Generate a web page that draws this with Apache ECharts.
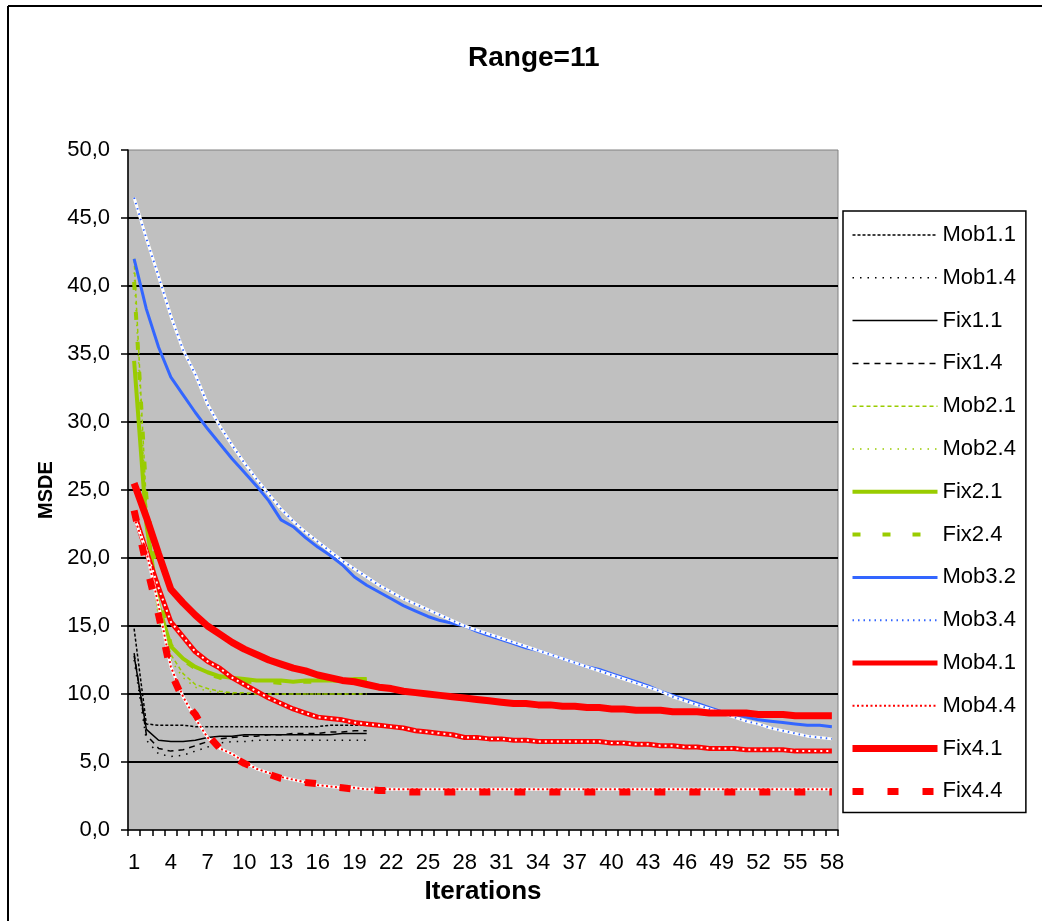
<!DOCTYPE html>
<html>
<head>
<meta charset="utf-8">
<script src="https://cdn.jsdelivr.net/npm/echarts@6/dist/echarts.min.js"></script>
<style>
html,body{margin:0;padding:0;background:#fff;}
#chart{width:1042px;height:921px;}
</style>
</head>
<body>
<div id="chart"></div>
<script>
const categories = ['1','2','3','4','5','6','7','8','9','10','11','12','13','14','15','16','17','18','19','20',
'21','22','23','24','25','26','27','28','29','30','31','32','33','34','35','36','37','38','39','40',
'41','42','43','44','45','46','47','48','49','50','51','52','53','54','55','56','57','58'];

const mob11 = [14.8, 7.8, 7.7, 7.7, 7.7, 7.6, 7.6, 7.6, 7.6, 7.6, 7.6, 7.6, 7.6, 7.6, 7.6, 7.6, 7.7, 7.7, 7.7, 7.7];
const mob14 = [12.5, 6.6, 5.6, 5.4, 5.5, 5.8, 6.1, 6.4, 6.5, 6.5, 6.6, 6.6, 6.6, 6.6, 6.6, 6.6, 6.6, 6.6, 6.6, 6.6];
const fix11 = [12.8, 7.4, 6.6, 6.5, 6.5, 6.6, 6.8, 6.9, 6.9, 7.0, 7.0, 7.0, 7.0, 7.0, 7.0, 7.0, 7.0, 7.1, 7.1, 7.1];
const fix14 = [13.0, 7.0, 6.0, 5.8, 5.9, 6.2, 6.5, 6.7, 6.8, 6.9, 6.9, 7.0, 7.0, 7.1, 7.1, 7.1, 7.2, 7.2, 7.3, 7.3];

const mob21 = [42.0, 24.0, 16.0, 12.9, 11.5, 10.7, 10.4, 10.2, 10.1, 10.1, 10.0, 10.0, 10.0, 10.0, 10.0, 10.0, 10.0, 10.0, 10.0, 10.0];
const mob24 = [41.0, 23.0, 15.5, 12.5, 11.2, 10.5, 10.2, 10.1, 10.0, 10.0, 10.0, 10.0, 10.0, 10.0, 10.0, 10.0, 10.0, 10.0, 10.0, 10.0];
const fix21 = [34.5, 22.5, 16.5, 13.5, 12.6, 12.0, 11.6, 11.3, 11.2, 11.1, 11.0, 11.0, 11.0, 10.9, 11.0, 11.0, 11.0, 11.0, 11.1, 11.1];
const fix24 = [40.3, 24.5, 17.5, 13.6, 12.5, 11.9, 11.5, 11.2, 11.0, 10.9, 10.9, 10.9, 10.8, 10.9, 10.9, 10.9, 11.0, 11.0, 11.0, 11.0];

const mob32 = [42.0, 38.3, 35.5, 33.3, 32.0, 30.7, 29.5, 28.4, 27.3, 26.3, 25.3, 24.2, 22.8, 22.3, 21.5, 20.8, 20.2, 19.5, 18.6, 18.0,
  17.5, 17.0, 16.5, 16.1, 15.7, 15.4, 15.2, 15.0, 14.6, 14.3, 14.0, 13.7, 13.4, 13.2, 12.9, 12.6, 12.3, 12.0, 11.8, 11.5,
  11.2, 10.9, 10.6, 10.2, 9.9, 9.6, 9.3, 9.0, 8.7, 8.5, 8.3, 8.1, 8.0, 7.9, 7.8, 7.7, 7.7, 7.6];
const mob34 = [46.5, 43.5, 40.7, 37.8, 35.3, 33.5, 31.3, 29.7, 28.3, 27.0, 25.8, 24.7, 23.6, 22.7, 21.9, 21.2, 20.5, 19.8, 19.2, 18.6,
  18.0, 17.5, 17.0, 16.6, 16.2, 15.8, 15.4, 15.0, 14.7, 14.4, 14.1, 13.8, 13.5, 13.2, 12.9, 12.6, 12.3, 12.0, 11.7, 11.4,
  11.1, 10.8, 10.5, 10.2, 9.8, 9.5, 9.2, 8.9, 8.6, 8.3, 8.0, 7.8, 7.5, 7.3, 7.1, 6.9, 6.8, 6.7];

const mob41 = [23.3, 20.5, 17.8, 15.3, 14.2, 13.1, 12.4, 11.9, 11.2, 10.7, 10.2, 9.7, 9.3, 8.9, 8.6, 8.3, 8.2, 8.1, 7.9, 7.8,
  7.7, 7.6, 7.5, 7.3, 7.2, 7.1, 7.0, 6.8, 6.8, 6.7, 6.7, 6.6, 6.6, 6.5, 6.5, 6.5, 6.5, 6.5, 6.5, 6.4,
  6.4, 6.3, 6.3, 6.2, 6.2, 6.1, 6.1, 6.0, 6.0, 6.0, 5.9, 5.9, 5.9, 5.9, 5.8, 5.8, 5.8, 5.8];
const mob44 = [23.0, 20.5, 16.5, 12.0, 9.8, 8.2, 6.8, 6.0, 5.6, 5.0, 4.5, 4.2, 3.9, 3.7, 3.5, 3.3, 3.2, 3.1, 3.1, 3.0,
  3.0, 3.0, 3.0, 3.0, 3.0, 3.0, 3.0, 3.0, 3.0, 3.0, 3.0, 3.0, 3.0, 3.0, 3.0, 3.0, 3.0, 3.0, 3.0, 3.0,
  3.0, 3.0, 3.0, 3.0, 3.0, 3.0, 3.0, 3.0, 3.0, 3.0, 3.0, 3.0, 3.0, 3.0, 3.0, 3.0, 3.0, 3.0];
const fix41 = [25.5, 23.0, 20.3, 17.7, 16.7, 15.8, 15.0, 14.4, 13.8, 13.3, 12.9, 12.5, 12.2, 11.9, 11.7, 11.4, 11.2, 11.0, 10.9, 10.7,
  10.5, 10.4, 10.2, 10.1, 10.0, 9.9, 9.8, 9.7, 9.6, 9.5, 9.4, 9.3, 9.3, 9.2, 9.2, 9.1, 9.1, 9.0, 9.0, 8.9,
  8.9, 8.8, 8.8, 8.8, 8.7, 8.7, 8.7, 8.6, 8.6, 8.6, 8.6, 8.5, 8.5, 8.5, 8.4, 8.4, 8.4, 8.4];
const fix44 = [23.5, 19.5, 15.8, 11.6, 9.6, 8.5, 7.0, 6.0, 5.4, 4.9, 4.5, 4.1, 3.8, 3.6, 3.5, 3.4, 3.2, 3.1, 3.0, 3.0,
  2.9, 2.9, 2.8, 2.8, 2.8, 2.8, 2.8, 2.8, 2.8, 2.8, 2.8, 2.8, 2.8, 2.8, 2.8, 2.8, 2.8, 2.8, 2.8, 2.8,
  2.8, 2.8, 2.8, 2.8, 2.8, 2.8, 2.8, 2.8, 2.8, 2.8, 2.8, 2.8, 2.8, 2.8, 2.8, 2.8, 2.8, 2.8];

const legendNames = ['Mob1.1','Mob1.4','Fix1.1','Fix1.4','Mob2.1','Mob2.4','Fix2.1','Fix2.4','Mob3.2','Mob3.4','Mob4.1','Mob4.4','Fix4.1','Fix4.4'];

const BLACK = '#000000', GREEN = '#99CC00', BLUE = '#3366FF', RED = '#FF0000';
const styles = {
  'Mob1.1': [BLACK, 1.5, [3, 2]],
  'Mob1.4': [BLACK, 1.5, [1.5, 6]],
  'Fix1.1': [BLACK, 1.5, 'solid'],
  'Fix1.4': [BLACK, 1.5, [6, 5]],
  'Mob2.1': [GREEN, 1.5, [4, 3]],
  'Mob2.4': [GREEN, 1.5, [1.5, 6]],
  'Fix2.1': [GREEN, 4, 'solid'],
  'Fix2.4': [GREEN, 4, [8, 22]],
  'Mob3.2': [BLUE, 3, 'solid'],
  'Mob3.4': [BLUE, 2, [1.5, 4]],
  'Mob4.1': [RED, 5, 'solid'],
  'Mob4.4': [RED, 2, [2, 2.5]],
  'Fix4.1': [RED, 7, 'solid'],
  'Fix4.4': [RED, 7, [11, 24]]
};

function ln(name, data, color, width, type) {
  return { name: name, type: 'line', data: data, symbol: 'none', showSymbol: false,
    lineStyle: { color: color, width: width, type: type || 'solid', cap: 'butt' },
    itemStyle: { color: color }, emphasis: { disabled: true } };
}
function main(name, data) { const s = styles[name]; return ln(name, data, s[0], s[1], s[2]); }

const series = [
  main('Mob1.1', mob11),
  main('Mob1.4', mob14),
  main('Fix1.1', fix11),
  main('Fix1.4', fix14),
  main('Mob2.1', mob21),
  main('Mob2.4', mob24),
  main('Fix2.1', fix21),
  main('Fix2.4', fix24),
  main('Mob3.2', mob32),
  ln('Mob3.4 base', mob34, '#FFFFFF', 3, 'solid'),
  main('Mob3.4', mob34),
  main('Mob4.1', mob41),
  ln('Mob4.1 holes', mob41, '#FFFFFF', 2, [2, 4]),
  ln('Mob4.4 base', mob44, '#FFFFFF', 3, 'solid'),
  main('Mob4.4', mob44),
  main('Fix4.1', fix41),
  main('Fix4.4', fix44)
];

const legendData = legendNames.map(function (n) {
  const s = styles[n];
  return { name: n,
    itemStyle: { color: 'rgba(0,0,0,0)', borderColor: 'rgba(0,0,0,0)', borderWidth: 0 },
    lineStyle: { color: s[0], width: s[1], type: s[2], cap: 'butt', opacity: 1 } };
});

const chart = echarts.init(document.getElementById('chart'), null, { renderer: 'canvas' });
chart.setOption({
  animation: false,
  backgroundColor: '#FFFFFF',
  title: {
    text: 'Range=11', left: 468, top: 44, padding: 0,
    textStyle: { fontFamily: 'Liberation Sans, Arial, sans-serif', fontSize: 28, fontWeight: 'bold', color: '#000' }
  },
  graphic: [
    { type: 'line', shape: { x1: 8, y1: 6, x2: 8, y2: 921 }, style: { stroke: '#000', lineWidth: 2 } },
    { type: 'line', shape: { x1: 8, y1: 6, x2: 1042, y2: 6 }, style: { stroke: '#000', lineWidth: 2 } }
  ],
  legend: {
    data: legendData, orient: 'vertical', left: 843, top: 211,
    padding: [13, 10, 10, 6], itemWidth: 85, itemHeight: 14, itemGap: 20.8,
    borderColor: '#000', borderWidth: 1.5, backgroundColor: '#FFFFFF',
    selectedMode: false,
    textStyle: { fontFamily: 'Liberation Sans, Arial, sans-serif', fontSize: 22, lineHeight: 22, color: '#000' }
  },
  grid: {
    left: 128, right: 204, top: 150, bottom: 91, show: true,
    backgroundColor: '#C0C0C0', borderColor: '#808080', borderWidth: 1
  },
  xAxis: {
    type: 'category', data: categories, boundaryGap: true,
    name: 'Iterations', nameLocation: 'middle', nameGap: 46,
    nameTextStyle: { fontFamily: 'Liberation Sans, Arial, sans-serif', fontSize: 26, fontWeight: 'bold', color: '#000' },
    axisLine: { show: true, lineStyle: { color: '#000', width: 1.5 } },
    axisTick: { show: true, interval: 0, length: 6, lineStyle: { color: '#000', width: 1.5 } },
    axisLabel: { interval: 2, margin: 22, fontFamily: 'Liberation Sans, Arial, sans-serif', fontSize: 22, color: '#000' },
    splitLine: { show: false }
  },
  yAxis: {
    type: 'value', min: 0, max: 50, interval: 5,
    name: 'MSDE', nameLocation: 'middle', nameGap: 68,
    nameTextStyle: { fontFamily: 'Liberation Sans, Arial, sans-serif', fontSize: 20, fontWeight: 'bold', color: '#000' },
    axisLine: { show: true, lineStyle: { color: '#000', width: 1.5 } },
    axisTick: { show: true, length: 7, lineStyle: { color: '#000', width: 1.5 } },
    axisLabel: { margin: 18, fontFamily: 'Liberation Sans, Arial, sans-serif', fontSize: 22, color: '#000',
      formatter: function (v) { return v.toFixed(1).replace('.', ','); } },
    splitLine: { show: true, showMinLine: false, showMaxLine: false, lineStyle: { color: '#000', width: 2 } }
  },
  series: series
});
</script>
</body>
</html>
